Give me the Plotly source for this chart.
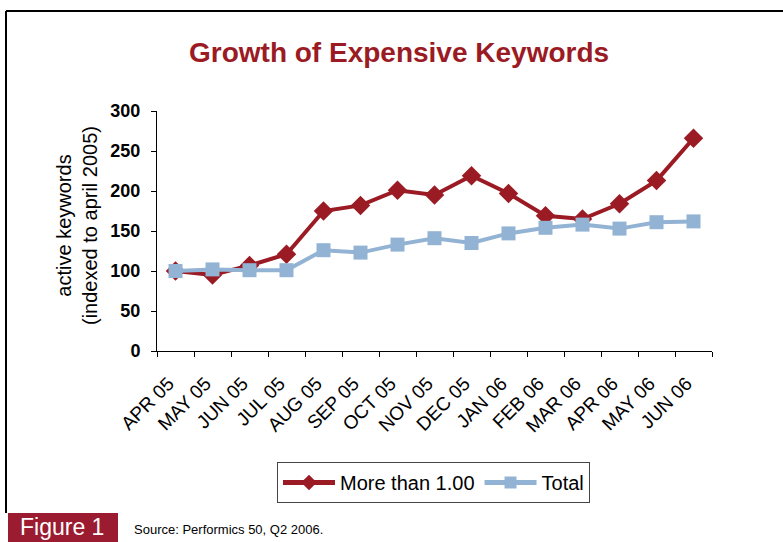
import plotly.graph_objects as go

months = ["APR 05", "MAY 05", "JUN 05", "JUL 05", "AUG 05", "SEP 05", "OCT 05", "NOV 05",
          "DEC 05", "JAN 06", "FEB 06", "MAR 06", "APR 06", "MAY 06", "JUN 06"]
more_than_100 = [100, 95, 107, 121, 175, 182, 201, 195, 219, 197, 169, 165, 184, 213, 266]
total = [100, 102, 101, 101, 126, 123, 133, 141, 135, 147, 154, 158, 153, 161, 162]
y_ticks = [0, 50, 100, 150, 200, 250, 300]

RED = "#9B1B24"
BLUE = "#93B3D4"
W, H = 783, 542
FONT = "Liberation Sans, Arial, sans-serif"

def px(x):
    return x / W

def py(y):
    return 1 - y / H

fig = go.Figure()
fig.add_trace(go.Scatter(x=months, y=more_than_100, name="More than 1.00", mode="lines+markers",
                         line=dict(color=RED, width=4),
                         marker=dict(symbol="diamond", size=15, color=RED)))
fig.add_trace(go.Scatter(x=months, y=total, name="Total", mode="lines+markers",
                         line=dict(color=BLUE, width=4),
                         marker=dict(symbol="square", size=14, color=BLUE)))

fig.update_layout(
    width=W, height=H,
    margin=dict(l=0, r=0, t=0, b=0, autoexpand=False),
    paper_bgcolor="white", plot_bgcolor="white",
    font=dict(family=FONT, color="black"),
    showlegend=True,
    legend=dict(orientation="h", x=px(277), y=py(462), xanchor="left", yanchor="top",
                bordercolor="#444", borderwidth=1, font=dict(size=20, color="black"),
                itemwidth=52, itemsizing="constant", tracegroupgap=0),
    xaxis=dict(domain=[px(157), px(712)], range=[-0.5, 14.5], showline=True, linecolor="black",
               linewidth=1, ticks="outside", ticklen=5, tickson="boundaries", tickcolor="black",
               tickangle=-45, tickfont=dict(size=19, color="black"), showgrid=False,
               ticklabelstandoff=13, ticklabelshift=-7, automargin=False),
    yaxis=dict(domain=[py(351), py(111)], range=[0, 300], tickvals=y_ticks, showline=True,
               linecolor="black", linewidth=1, ticks="outside", ticklen=5, tickcolor="black",
               tickfont=dict(size=18, color="black", weight="bold"), showgrid=False, zeroline=False,
               ticklabelstandoff=7, automargin=False),
    annotations=[
        dict(text="<b>Growth of Expensive Keywords</b>", x=px(399), y=py(52), xref="paper", yref="paper",
             xanchor="center", yanchor="middle", showarrow=False,
             font=dict(size=28, color=RED, family=FONT)),
        dict(text="active keywords<br>(indexed to april 2005)", x=px(77), y=py(226), xref="paper",
             yref="paper", xanchor="center", yanchor="middle", textangle=-90, showarrow=False,
             font=dict(size=20, color="black", family=FONT)),
        dict(text="Figure 1", x=px(62), y=py(527), xref="paper", yref="paper", xanchor="center",
             yanchor="middle", showarrow=False, font=dict(size=23, color="white", family=FONT)),
        dict(text="Source: Performics 50, Q2 2006.", x=px(132), y=py(529), xref="paper", yref="paper",
             xanchor="left", yanchor="middle", showarrow=False,
             font=dict(size=13, color="black", family=FONT)),
    ],
    shapes=[
        dict(type="line", xref="paper", yref="paper", x0=px(6), x1=px(6), y0=py(11), y1=py(513),
             line=dict(color="black", width=2)),
        dict(type="line", xref="paper", yref="paper", x0=px(6), x1=1, y0=py(11), y1=py(11),
             line=dict(color="black", width=2)),
        dict(type="rect", xref="paper", yref="paper", x0=px(8), x1=px(118), y0=py(513), y1=0,
             fillcolor="#9B1B30", line=dict(width=0), layer="below"),
    ],
)

fig.write_html("out.html")
